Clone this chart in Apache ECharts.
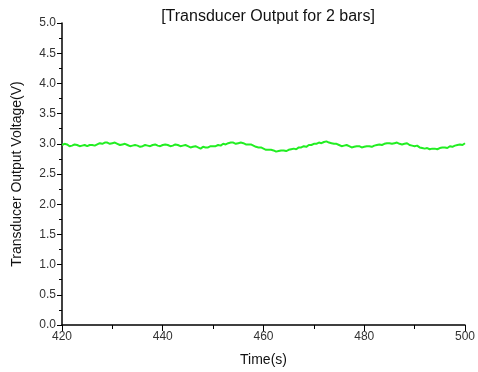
<!DOCTYPE html>
<html>
<head>
<meta charset="utf-8">
<script src="https://cdn.jsdelivr.net/npm/echarts@6/dist/echarts.min.js"></script>
<style>
  html, body { margin: 0; padding: 0; background: #fff; }
  #chart { width: 478px; height: 372px; }
</style>
</head>
<body>
<div id="chart"></div>
<script>
  // time axis (s), one reading every half second
  var times = [
    420, 420.5, 421, 421.5, 422, 422.5, 423, 423.5, 424, 424.5,
    425, 425.5, 426, 426.5, 427, 427.5, 428, 428.5, 429, 429.5,
    430, 430.5, 431, 431.5, 432, 432.5, 433, 433.5, 434, 434.5,
    435, 435.5, 436, 436.5, 437, 437.5, 438, 438.5, 439, 439.5,
    440, 440.5, 441, 441.5, 442, 442.5, 443, 443.5, 444, 444.5,
    445, 445.5, 446, 446.5, 447, 447.5, 448, 448.5, 449, 449.5,
    450, 450.5, 451, 451.5, 452, 452.5, 453, 453.5, 454, 454.5,
    455, 455.5, 456, 456.5, 457, 457.5, 458, 458.5, 459, 459.5,
    460, 460.5, 461, 461.5, 462, 462.5, 463, 463.5, 464, 464.5,
    465, 465.5, 466, 466.5, 467, 467.5, 468, 468.5, 469, 469.5,
    470, 470.5, 471, 471.5, 472, 472.5, 473, 473.5, 474, 474.5,
    475, 475.5, 476, 476.5, 477, 477.5, 478, 478.5, 479, 479.5,
    480, 480.5, 481, 481.5, 482, 482.5, 483, 483.5, 484, 484.5,
    485, 485.5, 486, 486.5, 487, 487.5, 488, 488.5, 489, 489.5,
    490, 490.5, 491, 491.5, 492, 492.5, 493, 493.5, 494, 494.5,
    495, 495.5, 496, 496.5, 497, 497.5, 498, 498.5, 499, 499.5,
    500
  ];
  // transducer output voltage (V)
  var voltage = [
    2.98, 3.00, 2.99, 2.96, 2.97, 2.99, 2.98, 2.96, 2.97, 2.98,
    2.96, 2.98, 2.98, 2.97, 2.99, 3.01, 3.00, 3.02, 3.02, 3.00,
    3.01, 3.02, 3.00, 2.98, 2.99, 3.00, 2.98, 2.96, 2.97, 2.98,
    2.97, 2.95, 2.96, 2.98, 2.97, 2.96, 2.98, 2.99, 2.97, 2.96,
    2.98, 2.99, 2.98, 2.96, 2.97, 2.99, 2.98, 2.96, 2.97, 2.98,
    2.96, 2.94, 2.95, 2.96, 2.94, 2.92, 2.95, 2.94, 2.94, 2.96,
    2.96, 2.96, 2.98, 2.97, 3.00, 2.99, 3.01, 3.02, 3.02, 3.00,
    3.01, 3.02, 3.01, 2.99, 2.99, 2.99, 2.97, 2.95, 2.94, 2.94,
    2.92, 2.90, 2.90, 2.90, 2.89, 2.87, 2.88, 2.89, 2.89, 2.88,
    2.90, 2.91, 2.92, 2.91, 2.94, 2.94, 2.96, 2.95, 2.98, 2.98,
    3.00, 3.00, 3.02, 3.01, 3.03, 3.04, 3.02, 3.01, 3.00, 3.00,
    2.98, 2.96, 2.97, 2.98, 2.96, 2.94, 2.95, 2.96, 2.96, 2.94,
    2.95, 2.96, 2.96, 2.95, 2.97, 2.98, 2.99, 2.98, 3.00, 3.01,
    3.01, 3.00, 3.01, 3.02, 3.00, 2.99, 3.00, 3.01, 2.98, 2.97,
    2.96, 2.97, 2.94, 2.93, 2.92, 2.93, 2.91, 2.92, 2.92, 2.91,
    2.93, 2.94, 2.94, 2.93, 2.96, 2.95, 2.97, 2.98, 2.99, 2.98,
    3.01
  ];
  var xTicks = [420, 440, 460, 480, 500];
  var yTicks = ['0.0', '0.5', '1.0', '1.5', '2.0', '2.5', '3.0', '3.5', '4.0', '4.5', '5.0'];

  var points = [];
  for (var i = 0; i < times.length; i++) {
    points.push([times[i], voltage[i]]);
  }

  var chart = echarts.init(document.getElementById('chart'));
  var option = {
    animation: false,
    textStyle: { fontFamily: 'Liberation Sans, Arial, sans-serif' },
    title: {
      text: '[Transducer Output for 2 bars]',
      left: 263,
      textAlign: 'center',
      top: 4,
      textStyle: { fontSize: 16, fontWeight: 'normal', color: '#111' }
    },
    grid: { left: 62, right: 13, top: 23, bottom: 45 },
    xAxis: {
      type: 'value',
      min: xTicks[0],
      max: xTicks[xTicks.length - 1],
      interval: 20,
      name: 'Time(s)',
      nameLocation: 'middle',
      nameGap: 28,
      nameTextStyle: { fontSize: 14, color: '#111' },
      axisLine: { lineStyle: { color: '#000', width: 1.5 } },
      axisTick: { show: true, inside: false, length: 6, lineStyle: { color: '#000', width: 1 } },
      minorTick: { show: true, splitNumber: 2, length: 4, lineStyle: { color: '#000', width: 1 } },
      axisLabel: { fontSize: 12, color: '#333', margin: 6 },
      splitLine: { show: false }
    },
    yAxis: {
      type: 'value',
      min: 0,
      max: 5,
      interval: 0.5,
      name: 'Transducer Output Voltage(V)',
      nameLocation: 'middle',
      nameGap: 38,
      nameTextStyle: { fontSize: 14, color: '#111' },
      axisLine: { show: true, lineStyle: { color: '#000', width: 1.5 } },
      axisTick: { show: true, inside: false, length: 5, lineStyle: { color: '#000', width: 1 } },
      minorTick: { show: true, splitNumber: 2, length: 3, lineStyle: { color: '#000', width: 1 } },
      axisLabel: {
        fontSize: 12,
        color: '#333',
        margin: 6,
        formatter: function (v) { return yTicks[Math.round(v * 2)]; }
      },
      splitLine: { show: false }
    },
    series: [{
      type: 'line',
      data: points,
      showSymbol: false,
      smooth: false,
      lineStyle: { color: '#22ee22', width: 2 }
    }]
  };
  chart.setOption(option);
</script>
</body>
</html>
